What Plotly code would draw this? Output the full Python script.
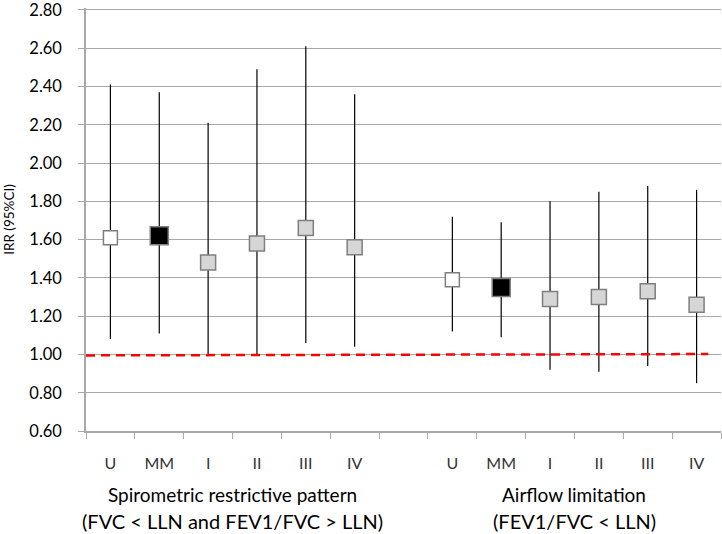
import plotly.graph_objects as go

# category slots (one empty slot separates the two groups)
categories = ["U", "MM", "I", "II", "III", "IV", "", "U", "MM", "I", "II", "III", "IV"]
irr = [1.61, 1.62, 1.48, 1.58, 1.66, 1.56, None, 1.39, 1.35, 1.29, 1.30, 1.33, 1.26]
ci_low = [1.08, 1.11, 1.00, 1.00, 1.06, 1.04, None, 1.12, 1.09, 0.92, 0.91, 0.94, 0.85]
ci_high = [2.41, 2.37, 2.21, 2.49, 2.61, 2.36, None, 1.72, 1.69, 1.80, 1.85, 1.88, 1.86]
y_ticks = [0.60, 0.80, 1.00, 1.20, 1.40, 1.60, 1.80, 2.00, 2.20, 2.40, 2.60, 2.80]

group_titles = ["Spirometric restrictive pattern", "Airflow limitation"]
group_subtitles = ["(FVC < LLN and FEV1/FVC > LLN)", "(FEV1/FVC < LLN)"]

FONT = "Lato"
GRID = "#a8a8a8"

pos = list(range(len(categories)))

# marker style per category: U white, MM black, grades grey
def marker_style(label):
    if label == "U":
        return "white", 14
    if label == "MM":
        return "black", 18
    return "#d6d6d6", 15

fig = go.Figure()

for x, lab, v, lo, hi in zip(pos, categories, irr, ci_low, ci_high):
    if v is None:
        continue
    color, size = marker_style(lab)
    fig.add_trace(go.Scatter(
        x=[x], y=[v],
        mode="markers",
        marker=dict(symbol="square", size=size, color=color,
                    line=dict(color="#7f7f7f", width=1.5)),
        error_y=dict(type="data", symmetric=False,
                     array=[hi - v], arrayminus=[v - lo],
                     color="black", thickness=1.2, width=0),
        showlegend=False,
        hoverinfo="skip",
    ))

# reference line at IRR = 1
fig.add_shape(type="line", xref="paper", yref="y",
              x0=0, x1=0.98, y0=0.995, y1=1.002,
              line=dict(color="#ff0000", width=2.5, dash="9px,6px"))

# group titles below the axis
for cx, t, s in zip([2.5, 9.5], group_titles, group_subtitles):
    fig.add_annotation(x=cx, y=-0.15, xref="x", yref="paper", text=t,
                       yanchor="middle", showarrow=False,
                       font=dict(family=FONT, size=19, color="black"))
    fig.add_annotation(x=cx, y=-0.213, xref="x", yref="paper", text=s,
                       yanchor="middle", showarrow=False,
                       font=dict(family=FONT, size=20, color="black"))

fig.update_layout(
    width=722, height=534,
    margin=dict(l=86, r=1, t=8, b=103),
    plot_bgcolor="white",
    paper_bgcolor="white",
    xaxis=dict(
        range=[-0.5, len(categories) - 0.5],
        tickvals=pos, ticktext=categories,
        ticks="", showgrid=False, zeroline=False,
        showline=True, linecolor=GRID, linewidth=1.5,
        ticklabelstandoff=17, automargin=False,
        tickfont=dict(family=FONT, size=16, color="#333333"),
        minor=dict(tick0=0.5, dtick=1, ticks="outside", ticklen=6,
                   tickcolor=GRID, showgrid=False),
    ),
    yaxis=dict(
        range=[0.6, 2.81],
        tickvals=y_ticks, tickformat=".2f",
        showgrid=True, gridcolor=GRID, gridwidth=1.2,
        zeroline=False, showline=True, linecolor=GRID, linewidth=1.5,
        ticks="outside", ticklen=6, tickcolor=GRID,
        ticklabelstandoff=13, automargin=False,
        ticklabeloverflow="allow",
        tickfont=dict(family=FONT, size=16.5, color="black"),
        title=dict(text="IRR (95%CI)", font=dict(family=FONT, size=13.5, color="black"),
                   standoff=12),
    ),
)

# drop the default page margin so the figure sits at the window's corner
fig.write_html("out.html", config={"displayModeBar": False},
               post_script="document.body.style.margin='0';")
